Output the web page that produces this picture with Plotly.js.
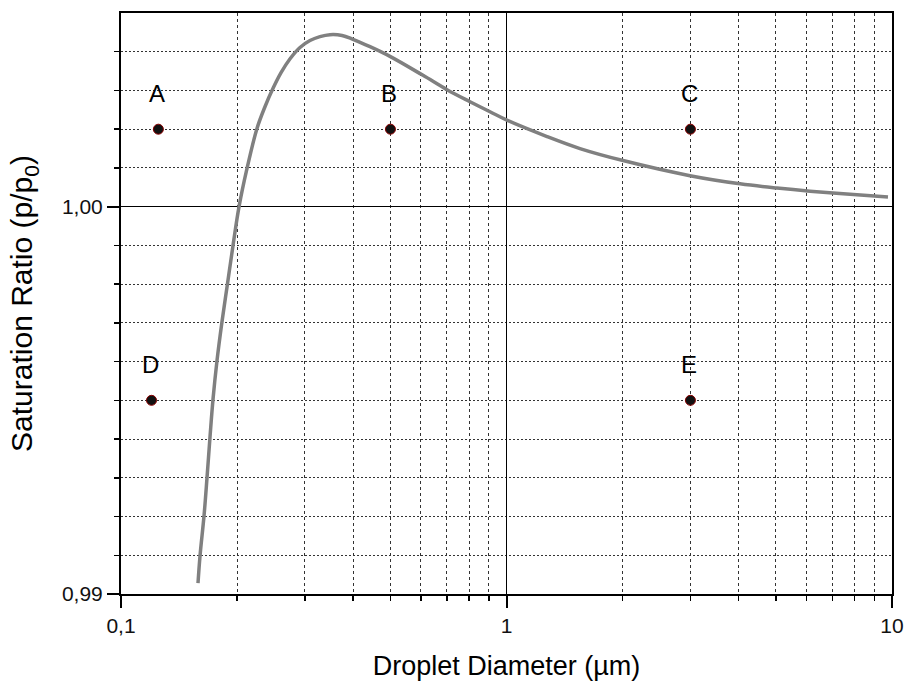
<!DOCTYPE html>
<html>
<head>
<meta charset="utf-8">
<script src="https://cdn.plot.ly/plotly-3.0.1.min.js"></script>
<style>html,body{margin:0;padding:0;background:#fff;}#chart{width:908px;height:684px;}</style>
</head>
<body>
<div id="chart"></div>
<script>
// Köhler curve
const curveDiameter = [0.1584, 0.1603, 0.1642, 0.1672, 0.1702, 0.1733, 0.1774, 0.1828, 0.1889, 0.1952, 0.2024,
  0.2122, 0.2253, 0.2363, 0.2478, 0.2601, 0.2745, 0.2913, 0.3092, 0.3282, 0.3484, 0.3744, 0.3996, 0.4425,
  0.4986, 0.6073, 0.7010, 0.8039, 0.9061, 1.009, 1.274, 1.551, 2.006, 2.992, 4.035, 5.031, 6.129, 8.113, 9.764];
const curveRatio = [0.99028, 0.99098, 0.99202, 0.99302, 0.99406, 0.99504, 0.99602, 0.99703, 0.99801, 0.99899, 1.00000,
  1.00098, 1.00202, 1.00258, 1.00305, 1.00346, 1.00382, 1.00411, 1.00429, 1.00439, 1.00444, 1.00442, 1.00432, 1.00413,
  1.00388, 1.00339, 1.00302, 1.00271, 1.00245, 1.00222, 1.00181, 1.00150, 1.00119, 1.00080, 1.00059, 1.00048, 1.00040, 1.00031, 1.00025];

// labelled state points
const pointLabels = ['A', 'B', 'C', 'D', 'E'];
const pointDiameter = [0.125, 0.5, 3, 0.12, 3];
const pointRatio = [1.002, 1.002, 1.002, 0.995, 0.995];

// axis ticks
const xTickVals = [0.1, 1, 10];
const xTickText = ['0,1', '1', '10'];
const xMinorVals = [0.2, 0.3, 0.4, 0.5, 0.6, 0.7, 0.8, 0.9, 2, 3, 4, 5, 6, 7, 8, 9];
const yTickVals = [0.99, 1.00];
const yTickText = ['0,99', '1,00'];
const yMinorVals = [0.991, 0.992, 0.993, 0.994, 0.995, 0.996, 0.997, 0.998, 0.999, 1.001, 1.002, 1.003, 1.004];

const FONT = '"Liberation Sans", Arial, sans-serif';

const traces = [
  {
    x: curveDiameter, y: curveRatio, type: 'scatter', mode: 'lines',
    line: {color: '#808080', width: 3.5, shape: 'spline', smoothing: 1},
    hoverinfo: 'skip', showlegend: false
  },
  {
    x: pointDiameter, y: pointRatio, type: 'scatter', mode: 'markers',
    marker: {color: '#111', size: 10, line: {color: '#8b0000', width: 1}},
    text: pointLabels, showlegend: false
  }
];

const annotations = pointLabels.map((t, i) => ({
  x: Math.log10(pointDiameter[i]), y: pointRatio[i], xref: 'x', yref: 'y',
  text: t, showarrow: false, yshift: 36, xshift: -1,
  font: {family: FONT, size: 24, color: '#000'}
}));

const layout = {
  width: 908, height: 684,
  margin: {l: 121, r: 16, t: 13, b: 90},
  paper_bgcolor: '#fff', plot_bgcolor: '#fff',
  separators: ', ',
  font: {family: FONT, color: '#000'},
  showlegend: false,
  xaxis: {
    type: 'log', range: [-1, 1],
    tickmode: 'array', tickvals: xTickVals, ticktext: xTickText,
    ticks: 'outside', ticklen: 12, tickwidth: 2, tickcolor: '#000',
    tickfont: {family: FONT, size: 21, color: '#111'},
    showline: true, linecolor: '#000', linewidth: 2, mirror: true,
    showgrid: true, gridcolor: '#000', gridwidth: 1,
    zeroline: false,
    minor: {tickmode: 'array', tickvals: xMinorVals, ticks: 'outside', ticklen: 5, tickwidth: 1.5, tickcolor: '#000',
            showgrid: true, gridcolor: '#333', gridwidth: 1, griddash: '3px,3px'},
    title: {text: 'Droplet Diameter (µm)', font: {family: FONT, size: 27, color: '#000'}, standoff: 20}
  },
  yaxis: {
    range: [0.99, 1.005],
    tickmode: 'array', tickvals: yTickVals, ticktext: yTickText,
    ticks: 'outside', ticklen: 12, tickwidth: 2, tickcolor: '#000',
    tickfont: {family: FONT, size: 21, color: '#111'},
    showline: true, linecolor: '#000', linewidth: 2, mirror: true,
    showgrid: true, gridcolor: '#000', gridwidth: 1,
    zeroline: false,
    minor: {tickmode: 'array', tickvals: yMinorVals, ticks: 'outside', ticklen: 5, tickwidth: 1.5, tickcolor: '#000',
            showgrid: true, gridcolor: '#333', gridwidth: 1, griddash: '2px,2px'},
    title: {text: 'Saturation Ratio (p/p<sub>0</sub>)', font: {family: FONT, size: 30, color: '#000'}, standoff: 20}
  },
  annotations: annotations
};

Plotly.newPlot('chart', traces, layout, {displayModeBar: false, staticPlot: true});
</script>
</body>
</html>
